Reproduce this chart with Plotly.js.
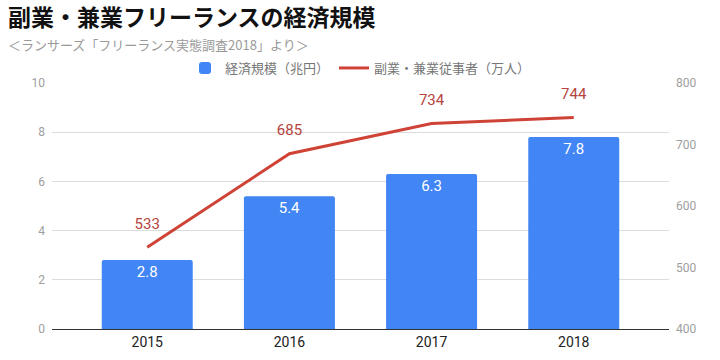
<!DOCTYPE html>
<html>
<head>
<meta charset="utf-8">
<script src="https://cdn.plot.ly/plotly-3.0.1.min.js"></script>
<style>html,body{margin:0;padding:0;background:#fff;}#chart{width:720px;height:360px;}</style>
</head>
<body>
<div id="chart"></div>
<script>
const years = ['2015', '2016', '2017', '2018'];
const marketSize = [2.8, 5.4, 6.3, 7.8];          // 経済規模（兆円）
const workers = [533, 685, 734, 744];              // 副業・兼業従事者（万人）
const barName = '経済規模（兆円）';
const lineName = '副業・兼業従事者（万人）';
const leftTicks = [0, 2, 4, 6, 8, 10];
const rightTicks = [400, 500, 600, 700, 800];
const titleText = '副業・兼業フリーランスの経済規模';
const subtitleText = '＜ランサーズ「フリーランス実態調査2018」より＞';

const FONT = '"Noto Sans CJK JP", "Noto Sans", Roboto, sans-serif';

const traces = [
  {
    type: 'bar', x: years, y: marketSize, name: barName,
    marker: {color: '#4285f4', cornerradius: 2},
    width: 0.64,
    text: marketSize.map(v => v.toFixed(1)),
    textposition: 'inside', insidetextanchor: 'end',
    textfont: {color: '#ffffff', size: 15, family: 'Roboto, sans-serif'},
    hoverinfo: 'none'
  },
  {
    type: 'scatter', mode: 'lines+markers+text', x: years, y: workers, name: lineName,
    yaxis: 'y2',
    line: {color: '#cf4337', width: 3},
    marker: {size: 22, color: 'rgba(0,0,0,0)'},
    text: workers.map(String),
    textposition: 'top center',
    textfont: {color: '#b5433e', size: 15, family: 'Roboto, sans-serif'},
    cliponaxis: false,
    hoverinfo: 'none'
  }
];

const layout = {
  width: 720, height: 360,
  margin: {l: 52, r: 51, t: 83, b: 31},
  paper_bgcolor: '#fff', plot_bgcolor: '#fff',
  font: {family: FONT},
  title: {
    text: '<b>' + titleText + '</b>',
    font: {size: 23, color: '#111', family: FONT},
    xref: 'container', yref: 'container',
    x: 8/720, xanchor: 'left', y: 1 - 18/360, yanchor: 'middle'
  },
  annotations: [{
    text: subtitleText, xref: 'paper', yref: 'paper',
    x: (6 - 52)/617, xanchor: 'left', y: 1 + (83 - 45)/246, yanchor: 'middle',
    showarrow: false, font: {size: 13, color: '#9a9a9a', family: FONT}
  }],
  showlegend: true,
  legend: {
    orientation: 'h', x: 0.5, xanchor: 'center', y: 1.0, yanchor: 'bottom',
    font: {size: 13, color: '#777', family: FONT},
    itemwidth: 30, bgcolor: 'rgba(0,0,0,0)'
  },
  xaxis: {
    type: 'category', range: [-0.67, 3.67],
    showgrid: false, showline: true, linecolor: '#333', linewidth: 1,
    ticks: '', tickfont: {size: 14, color: '#222', family: 'Roboto, sans-serif'},
    fixedrange: true
  },
  yaxis: {
    range: [0, 10], tickvals: leftTicks,
    showgrid: true, gridcolor: '#dcdcdc', zeroline: false,
    ticks: '', tickfont: {size: 12, color: '#9e9e9e', family: 'Roboto, sans-serif'},
    ticklabelstandoff: 6, fixedrange: true
  },
  yaxis2: {
    range: [400, 800], tickvals: rightTicks, overlaying: 'y', side: 'right',
    showgrid: false, zeroline: false,
    ticks: '', tickfont: {size: 12, color: '#9e9e9e', family: 'Roboto, sans-serif'},
    ticklabelstandoff: 6, fixedrange: true
  }
};

Plotly.newPlot('chart', traces, layout, {displayModeBar: false, staticPlot: true});
</script>
</body>
</html>
